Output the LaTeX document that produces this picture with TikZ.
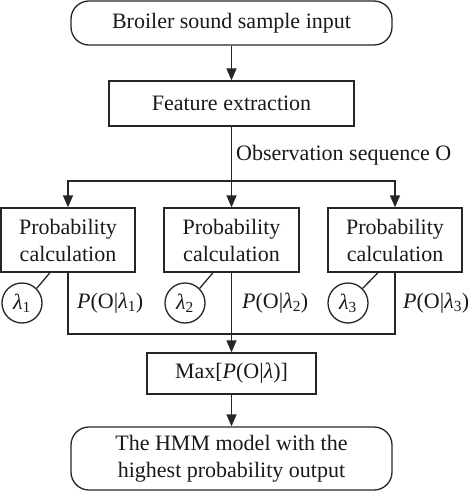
\documentclass[tikz,border=0pt]{standalone}
\usepackage{fontspec}
\setmainfont{Liberation Serif}
\usetikzlibrary{arrows.meta}
\begin{document}
\begin{tikzpicture}[x=1pt,y=-1pt,
  every node/.style={font=\fontsize{22}{27}\selectfont, text=black!90},
  box/.style={draw=black!85, line width=1.3pt, inner sep=0pt, align=center},
  rbox/.style={box, rounded corners=18pt},
  circ/.style={draw=black!85, line width=1.3pt, circle, minimum size=40pt, inner sep=0pt},
  conn/.style={draw=black!85, line width=1.3pt},
  arr/.style={conn, -{Triangle[length=12pt,width=10pt]}},
  plabel/.style={anchor=west, inner sep=0pt}
]
\useasboundingbox (0,0) rectangle (474,492);
\node[rbox, minimum width=321pt, minimum height=44pt] (top) at (231.5,23) {Broiler sound sample input};
\node[box, minimum width=245pt, minimum height=45pt] (feat) at (231.5,103.5) {Feature extraction};
\node[plabel] (obs) at (236,155) {Observation sequence O};
\coordinate (split) at (231.5,181);
\node[box, minimum width=134pt, minimum height=64pt] (p1) at (68,240) {Probability\\calculation};
\node[box, minimum width=135pt, minimum height=64pt] (p2) at (231.5,240) {Probability\\calculation};
\node[box, minimum width=134pt, minimum height=64pt] (p3) at (395,240) {Probability\\calculation};
\node[circ] (c1) at (22,303) {\textit{λ}\textsubscript{1}};
\node[circ] (c2) at (185,303) {\textit{λ}\textsubscript{2}};
\node[circ] (c3) at (348,303) {\textit{λ}\textsubscript{3}};
\node[plabel] (l1) at (77,303) {\textit{P}(O|\textit{λ}\textsubscript{1})};
\node[plabel] (l2) at (242,303) {\textit{P}(O|\textit{λ}\textsubscript{2})};
\node[plabel] (l3) at (403,303) {\textit{P}(O|\textit{λ}\textsubscript{3})};
\coordinate (m1) at (68,334);
\coordinate (m2) at (231.5,334);
\coordinate (m3) at (395,334);
\node[box, minimum width=169pt, minimum height=41pt] (max) at (231.5,373.5) {Max[\textit{P}(O|\textit{λ})]};
\node[rbox, minimum width=321pt, minimum height=63pt] (out) at (231.5,458.5) {The HMM model with the\\highest probability output};

\draw[arr] (top) -- (feat);
\draw[conn] (feat) -- (split);
\draw[arr] (split) -- (p2);
\draw[arr] (split) -| (p1);
\draw[arr] (split) -| (p3);
\draw[conn] (p1.south -| 50,0) -- (c1.45);
\draw[conn] (p2.south -| 213,0) -- (c2.45);
\draw[conn] (p3.south -| 378,0) -- (c3.45);
\draw[conn] (p1) -- (m1) -- (m3) -- (p3);
\draw[conn] (p2) -- (m2);
\draw[arr] (m2) -- (max);
\draw[arr] (max) -- (out);
\end{tikzpicture}
\end{document}
